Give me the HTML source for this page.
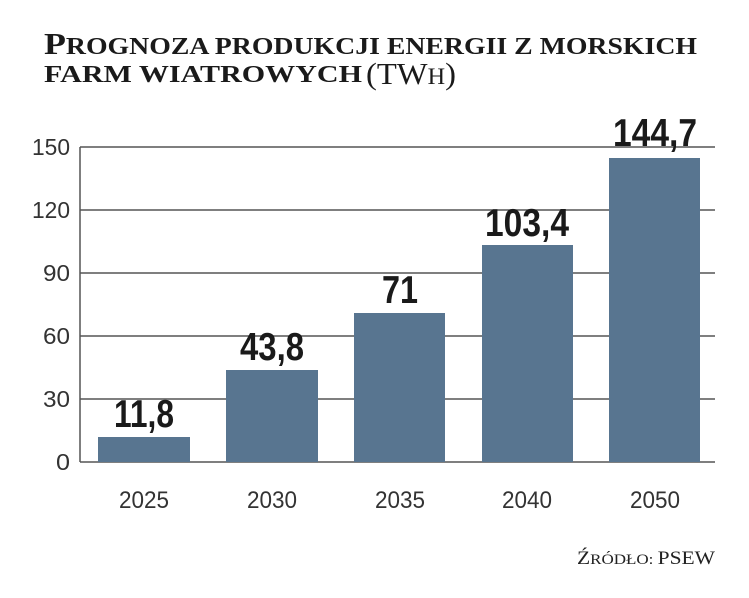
<!DOCTYPE html>
<html><head><meta charset="utf-8"><style>body{margin:0;background:#fff}</style></head><body>
<svg width="749" height="593" xmlns="http://www.w3.org/2000/svg">
<g font-family="Liberation Serif, serif" font-weight="bold" fill="#1a1a1a">
<text x="44" y="54" textLength="653" lengthAdjust="spacingAndGlyphs"><tspan font-size="31">P</tspan><tspan font-size="24">ROGNOZA PRODUKCJI ENERGII Z MORSKICH</tspan></text>
<text x="44" y="82" font-size="24" textLength="318" lengthAdjust="spacingAndGlyphs">FARM WIATROWYCH</text>
<text x="366" y="84" font-weight="normal" textLength="90" lengthAdjust="spacingAndGlyphs"><tspan font-size="31">(TW</tspan><tspan font-size="23">H</tspan><tspan font-size="31">)</tspan></text>
</g>
<g stroke="#555" stroke-width="1.5">
<line x1="80" y1="147" x2="715" y2="147"/>
<line x1="80" y1="210" x2="715" y2="210"/>
<line x1="80" y1="273" x2="715" y2="273"/>
<line x1="80" y1="336" x2="715" y2="336"/>
<line x1="80" y1="399" x2="715" y2="399"/>
<line x1="80" y1="462" x2="715" y2="462"/>
<line x1="80" y1="147" x2="80" y2="462"/>
</g>
<g fill="#587590">
<rect x="98" y="437" width="92" height="25"/>
<rect x="226" y="370" width="92" height="92"/>
<rect x="354" y="313" width="91" height="149"/>
<rect x="482" y="245" width="91" height="217"/>
<rect x="609" y="158" width="91" height="304"/>
</g>
<g font-family="Liberation Sans, sans-serif" font-size="23" fill="#333" text-anchor="end">
<text x="70" y="155" textLength="38" lengthAdjust="spacingAndGlyphs">150</text>
<text x="70" y="218" textLength="38" lengthAdjust="spacingAndGlyphs">120</text>
<text x="70" y="281" textLength="27" lengthAdjust="spacingAndGlyphs">90</text>
<text x="70" y="344" textLength="27" lengthAdjust="spacingAndGlyphs">60</text>
<text x="70" y="407" textLength="27" lengthAdjust="spacingAndGlyphs">30</text>
<text x="70" y="470" textLength="14" lengthAdjust="spacingAndGlyphs">0</text>
</g>
<g font-family="Liberation Sans, sans-serif" font-size="24" fill="#333" text-anchor="middle">
<text x="144" y="508" textLength="50" lengthAdjust="spacingAndGlyphs">2025</text>
<text x="272" y="508" textLength="50" lengthAdjust="spacingAndGlyphs">2030</text>
<text x="400" y="508" textLength="50" lengthAdjust="spacingAndGlyphs">2035</text>
<text x="527" y="508" textLength="50" lengthAdjust="spacingAndGlyphs">2040</text>
<text x="655" y="508" textLength="50" lengthAdjust="spacingAndGlyphs">2050</text>
</g>
<g font-family="Liberation Sans, sans-serif" font-size="39" font-weight="bold" fill="#1a1a1a" text-anchor="middle">
<text x="144" y="427" textLength="60" lengthAdjust="spacingAndGlyphs">11,8</text>
<text x="272" y="360" textLength="64" lengthAdjust="spacingAndGlyphs">43,8</text>
<text x="400" y="303" textLength="36" lengthAdjust="spacingAndGlyphs">71</text>
<text x="527" y="236" textLength="84" lengthAdjust="spacingAndGlyphs">103,4</text>
<text x="655" y="146" textLength="84" lengthAdjust="spacingAndGlyphs">144,7</text>
</g>
<text x="715" y="564" text-anchor="end" font-family="Liberation Serif, serif" fill="#222" textLength="138" lengthAdjust="spacingAndGlyphs"><tspan font-size="19">Ź</tspan><tspan font-size="15">RÓDŁO: </tspan><tspan font-size="19">PSEW</tspan></text>
</svg>
</body></html>
